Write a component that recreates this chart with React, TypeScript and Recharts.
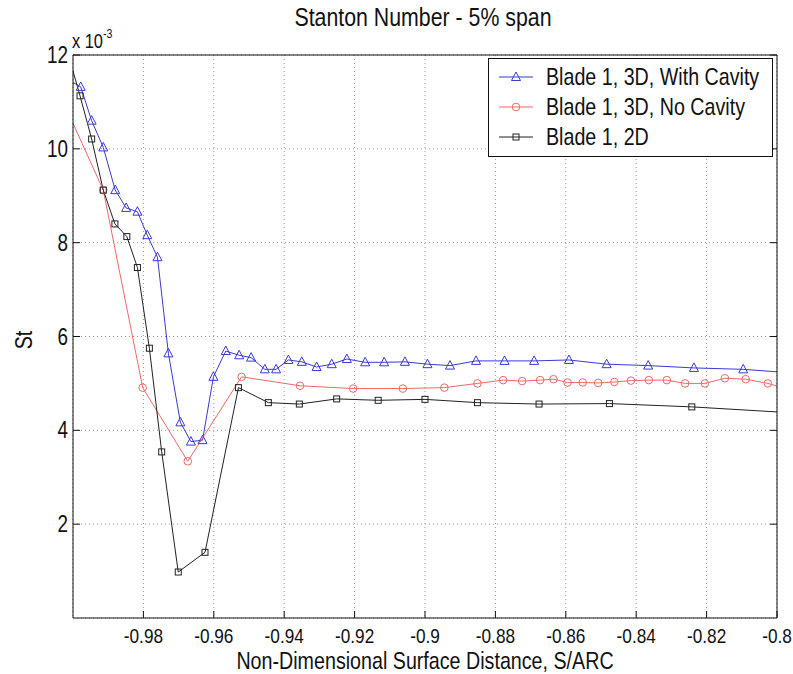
import { LineChart, Line, XAxis, YAxis, CartesianGrid } from 'recharts';

// St values are in units of 1e-3 (axis multiplier shown as "x 10^-3")
const xTicks = [-0.98, -0.96, -0.94, -0.92, -0.9, -0.88, -0.86, -0.84, -0.82, -0.8];
const yTicks = [2, 4, 6, 8, 10, 12];

const cavityX = [-1.001, -0.9978, -0.9947, -0.9914, -0.988, -0.9849, -0.9817, -0.9789, -0.976, -0.9729, -0.9695, -0.9665, -0.9632, -0.9601, -0.9566, -0.9528, -0.9494, -0.9455, -0.9423, -0.9388, -0.935, -0.9308, -0.9265, -0.9222, -0.917, -0.9116, -0.9057, -0.8993, -0.8929, -0.8855, -0.8774, -0.869, -0.8591, -0.8484, -0.8366, -0.8236, -0.8096, -0.795];
const cavityY = [11.46, 11.32, 10.6, 10.03, 9.12, 8.74, 8.66, 8.16, 7.69, 5.64, 4.17, 3.76, 3.79, 5.14, 5.69, 5.6, 5.55, 5.3, 5.3, 5.5, 5.46, 5.35, 5.41, 5.52, 5.45, 5.45, 5.46, 5.41, 5.38, 5.48, 5.48, 5.48, 5.5, 5.41, 5.38, 5.33, 5.3, 5.22];

const noCavityX = [-1.003, -0.9914, -0.9802, -0.9674, -0.9521, -0.9355, -0.9204, -0.9063, -0.8945, -0.8851, -0.8778, -0.8724, -0.8673, -0.8635, -0.8595, -0.8552, -0.8508, -0.8462, -0.8415, -0.8364, -0.8313, -0.8261, -0.8205, -0.8148, -0.8089, -0.8026, -0.797];
const noCavityY = [11.04, 9.12, 4.91, 3.34, 5.14, 4.95, 4.89, 4.89, 4.91, 5.0, 5.07, 5.05, 5.07, 5.09, 5.02, 5.02, 5.01, 5.03, 5.06, 5.07, 5.07, 5.0, 5.0, 5.11, 5.09, 5.0, 4.88];

const twoDX = [-1.002, -0.998, -0.9947, -0.9914, -0.9881, -0.9847, -0.9817, -0.9783, -0.9748, -0.9701, -0.9625, -0.953, -0.9445, -0.9357, -0.9251, -0.9133, -0.9, -0.8851, -0.8676, -0.8476, -0.8242, -0.795];
const twoDY = [12.18, 11.13, 10.21, 9.12, 8.4, 8.13, 7.47, 5.75, 3.54, 0.98, 1.4, 4.91, 4.59, 4.56, 4.67, 4.64, 4.66, 4.59, 4.56, 4.57, 4.5, 4.37];

const FONT = "'Liberation Sans', Arial, sans-serif";
const INK = '#111';
const BLUE = '#3a3ad2';
const RED = '#f06868';
const BLACK = '#222';

const toRows = (xs: number[], ys: number[]) => xs.map((x, i) => ({ x, y: ys[i] }));

// the original uses a condensed Helvetica; squeeze Liberation Sans horizontally
const Narrow = ({ x, y, size, anchor = 'start', children }: any) => (
  <text
    transform={`translate(${x} ${y}) scale(0.82 1)`}
    textAnchor={anchor}
    fontSize={size}
    fontFamily={FONT}
    fill={INK}
  >
    {children}
  </text>
);

const triangle = (cx: number, cy: number, color: string, key?: any) => (
  <polygon
    key={key}
    points={`${cx},${cy - 5} ${cx - 4.5},${cy + 3.5} ${cx + 4.5},${cy + 3.5}`}
    fill="none"
    stroke={color}
    strokeWidth={1}
  />
);
const square = (cx: number, cy: number, color: string, key?: any) => (
  <rect key={key} x={cx - 3} y={cy - 3} width={6} height={6} fill="none" stroke={color} strokeWidth={1} />
);
const circle = (cx: number, cy: number, color: string, key?: any) => (
  <circle key={key} cx={cx} cy={cy} r={3.8} fill="none" stroke={color} strokeWidth={1} />
);

const series = [
  { name: 'Blade 1, 3D, With Cavity', data: toRows(cavityX, cavityY), color: BLUE, marker: triangle },
  { name: 'Blade 1, 3D, No Cavity', data: toRows(noCavityX, noCavityY), color: RED, marker: circle },
  { name: 'Blade 1, 2D', data: toRows(twoDX, twoDY), color: BLACK, marker: square },
];

const BottomTick = ({ x, y, payload }: any) => (
  <g>
    <line x1={x} x2={x} y1={y} y2={y - 7} stroke={INK} />
    <Narrow x={x} y={y + 25} size={21} anchor="middle">
      {payload.value}
    </Narrow>
  </g>
);
const TopTick = ({ x, y }: any) => <line x1={x} x2={x} y1={y} y2={y + 7} stroke={INK} />;
const LeftTick = ({ x, y, payload }: any) => (
  <g>
    <line x1={x} x2={x + 7} y1={y} y2={y} stroke={INK} />
    <Narrow x={x - 5} y={y + 8} size={23} anchor="end">
      {payload.value}
    </Narrow>
  </g>
);
const RightTick = ({ x, y }: any) => <line x1={x} x2={x - 7} y1={y} y2={y} stroke={INK} />;

export default function App() {
  return (
    <div style={{ position: 'absolute', left: 0, top: 0, width: 793, height: 674, background: '#fff' }}>
      <LineChart width={793} height={674} margin={{ top: 54, right: 15, bottom: 0, left: 0 }}>
        <CartesianGrid stroke="#9a9a9a" strokeDasharray="1 3" />
        <XAxis
          dataKey="x"
          type="number"
          domain={[-1, -0.8]}
          ticks={xTicks}
          allowDataOverflow
          height={56}
          tickSize={0}
          tickMargin={0}
          tickLine={false}
          axisLine={{ stroke: INK }}
          tick={<BottomTick />}
          interval={0}
        />
        <XAxis
          xAxisId="top"
          orientation="top"
          type="number"
          domain={[-1, -0.8]}
          ticks={xTicks}
          allowDataOverflow
          height={1}
          tickSize={0}
          tickMargin={0}
          tickLine={false}
          axisLine={{ stroke: INK }}
          tick={<TopTick />}
          interval={0}
        />
        <YAxis
          type="number"
          domain={[0, 12]}
          ticks={yTicks}
          allowDataOverflow
          width={73}
          tickSize={0}
          tickMargin={0}
          tickLine={false}
          axisLine={{ stroke: INK }}
          tick={<LeftTick />}
          interval={0}
        />
        <YAxis
          yAxisId="right"
          orientation="right"
          type="number"
          domain={[0, 12]}
          ticks={yTicks}
          allowDataOverflow
          width={1}
          tickSize={0}
          tickMargin={0}
          tickLine={false}
          axisLine={{ stroke: INK }}
          tick={<RightTick />}
          interval={0}
        />
        {series.map((s) => (
          <Line
            key={s.name}
            data={s.data}
            dataKey="y"
            type="linear"
            stroke={s.color}
            strokeWidth={1}
            isAnimationActive={false}
            dot={(p: any) => (p.cx == null ? <g key={p.index} /> : s.marker(p.cx, p.cy, s.color, p.index))}
            activeDot={false}
          />
        ))}
      </LineChart>

      <svg width={793} height={674} style={{ position: 'absolute', left: 0, top: 0, pointerEvents: 'none' }}>
        <Narrow x={423} y={26} size={26} anchor="middle">
          Stanton Number - 5% span
        </Narrow>
        <Narrow x={72} y={48} size={20}>
          x 10
          <tspan dy={-10} fontSize={13}>-3</tspan>
        </Narrow>
        <text
          transform="translate(32 340) rotate(-90) scale(0.82 1)"
          textAnchor="middle"
          fontSize={24}
          fontFamily={FONT}
          fill={INK}
        >
          St
        </text>
        <Narrow x={425} y={669} size={24} anchor="middle">
          Non-Dimensional Surface Distance, S/ARC
        </Narrow>

        <rect x={488.5} y={58.5} width={284} height={98} fill="#fff" stroke={INK} strokeWidth={1} />
        {series.map((s, i) => {
          const cy = 77 + i * 30;
          return (
            <g key={s.name}>
              <line x1={499} x2={533} y1={cy} y2={cy} stroke={s.color} strokeWidth={1} />
              {s.marker(516, cy, s.color)}
              <Narrow x={546} y={cy + 8} size={24}>
                {s.name}
              </Narrow>
            </g>
          );
        })}
      </svg>
    </div>
  );
}
